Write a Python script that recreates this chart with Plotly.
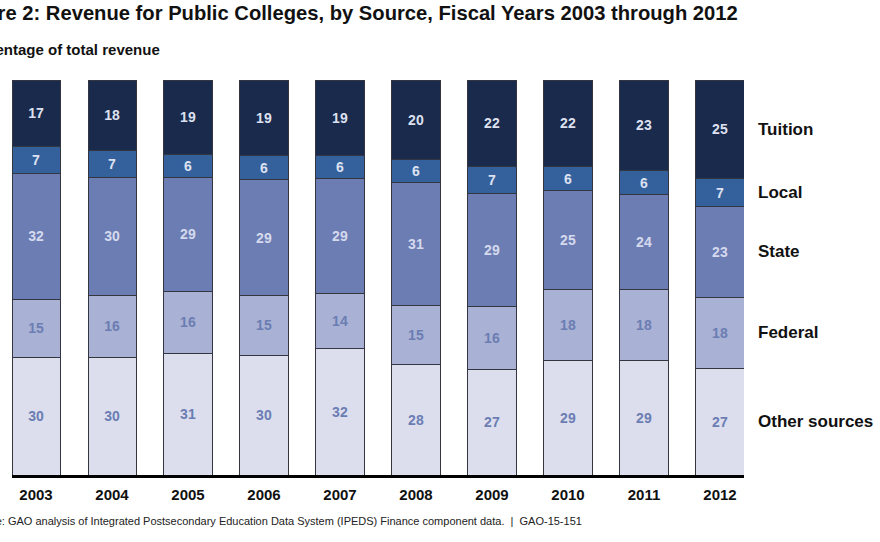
import plotly.graph_objects as go

years = ["2003", "2004", "2005", "2006", "2007", "2008", "2009", "2010", "2011", "2012"]

# percent of total revenue, bottom to top of each bar
other_sources = [30, 30, 31, 30, 32, 28, 27, 29, 29, 27]
federal = [15, 16, 16, 15, 14, 15, 16, 18, 18, 18]
state = [32, 30, 29, 29, 29, 31, 29, 25, 24, 23]
local = [7, 7, 6, 6, 6, 6, 7, 6, 6, 7]
tuition = [17, 18, 19, 19, 19, 20, 22, 22, 23, 25]

series = [
    ("Other sources", other_sources, "#dcdeee", "#6b7db2"),
    ("Federal", federal, "#a9b1d4", "#6b7db2"),
    ("State", state, "#6b7db2", "#d5d9ee"),
    ("Local", local, "#34609c", "#dde0f0"),
    ("Tuition", tuition, "#1a2a4c", "#dde0f0"),
]

font = "Arial, Liberation Sans, sans-serif"
L, R, T, B = 12, 136, 80, 67
W, H = 880, 542
pw = W - L - R
ph = H - T - B

fig = go.Figure()
for name, vals, col, tcol in series:
    fig.add_trace(go.Bar(
        x=years, y=vals, name=name,
        marker=dict(color=col, line=dict(color="#33363f", width=1)),
        text=vals, texttemplate="%{text}", textposition="inside",
        insidetextanchor="middle", textangle=0,
        textfont=dict(family=font, size=14, color=tcol, weight="bold"),
        hoverinfo="name+y",
    ))

# series labels on the right, at the middle of the 2012 segments
last = [s[1][-1] for s in series]
tot = sum(last)
cum = 0
annotations = []
for (name, vals, col, tcol), v in zip(series, last):
    mid = (cum + v / 2) / tot * 100
    cum += v
    annotations.append(dict(
        x=1, xref="paper", y=mid, yref="y", xanchor="left", yanchor="middle",
        xshift=12, text=name, showarrow=False,
        font=dict(family=font, size=17, color="#111111", weight="bold"),
    ))

def px(x):
    return (x - L) / pw

def py(y):
    return (H - B - y) / ph

annotations += [
    dict(x=px(740), y=py(13), xref="paper", yref="paper",
         text="<b>Figure 2: Revenue for Public Colleges, by Source, Fiscal Years 2003 through 2012</b>",
         showarrow=False, xanchor="right", yanchor="middle",
         font=dict(family=font, size=20.2, color="#111111")),
    dict(x=px(162), y=py(49), xref="paper", yref="paper", text="<b>Percentage of total revenue</b>",
         showarrow=False, xanchor="right", yanchor="middle",
         font=dict(family=font, size=15, color="#111111")),
    dict(x=px(584), y=py(521), xref="paper", yref="paper",
         text="Source: GAO analysis of Integrated Postsecondary Education Data System (IPEDS) Finance component data.  |  GAO-15-151",
         showarrow=False, xanchor="right", yanchor="middle",
         font=dict(family=font, size=11, color="#222222")),
]

half_gap = (1 - 0.632) / 2
fig.update_layout(
    width=W, height=H,
    margin=dict(l=L, r=R, t=T, b=B),
    barmode="stack", barnorm="percent", bargap=0.368,
    plot_bgcolor="white", paper_bgcolor="white",
    showlegend=False,
    annotations=annotations,
    uniformtext=dict(minsize=14, mode="show"),
    xaxis=dict(
        range=[-0.5 + half_gap, 9.5 - half_gap],
        showline=True, linecolor="black", linewidth=3,
        showgrid=False, ticks="", ticklabelstandoff=4,
        tickfont=dict(family=font, size=15, color="#111111", weight="bold"),
    ),
    yaxis=dict(range=[0, 100], visible=False),
)

fig.write_html("out.html", config={"displayModeBar": False},
               post_script="document.body.style.margin='0';document.body.style.overflow='hidden';")
